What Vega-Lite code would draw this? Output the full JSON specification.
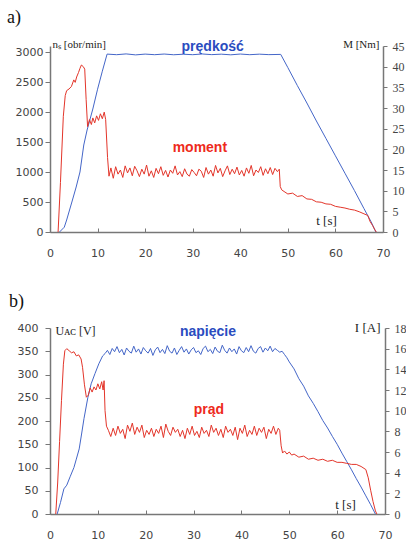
{
  "$schema": "https://vega.github.io/schema/vega-lite/v6.json",
  "padding": {"left": 7, "top": 9, "right": 0, "bottom": 0},
  "spacing": 35,
  "config": {
    "view": {"stroke": null},
    "axis": {"grid": false, "domainColor": "#777", "tickColor": "#777", "domainWidth": 1.5, "labelColor": "#444", "titleColor": "#222", "titleFontWeight": "normal"},
    "title": {"font": "Liberation Serif", "fontSize": 18, "fontWeight": "normal", "anchor": "start", "frame": "bounds", "baseline": "top", "color": "#111"}
  },
  "datasets": {
    "speed": [
      {"t": 2.0, "v": 0}, {"t": 3.0, "v": 80}, {"t": 3.5, "v": 200}, {"t": 4.6, "v": 500}, {"t": 5.5, "v": 750},
      {"t": 6.3, "v": 1000}, {"t": 7.1, "v": 1450}, {"t": 7.8, "v": 1700}, {"t": 9.0, "v": 2050}, {"t": 10.0, "v": 2380},
      {"t": 11.0, "v": 2680}, {"t": 12.0, "v": 2965}, {"t": 14, "v": 2955}, {"t": 16, "v": 2968}, {"t": 18, "v": 2952},
      {"t": 20, "v": 2965}, {"t": 22, "v": 2955}, {"t": 24, "v": 2966}, {"t": 26, "v": 2954}, {"t": 28, "v": 2963},
      {"t": 30, "v": 2955}, {"t": 32, "v": 2967}, {"t": 34, "v": 2956}, {"t": 36, "v": 2964}, {"t": 38, "v": 2953},
      {"t": 40, "v": 2966}, {"t": 42, "v": 2955}, {"t": 44, "v": 2964}, {"t": 46, "v": 2956}, {"t": 48.5, "v": 2960},
      {"t": 50, "v": 2740}, {"t": 52, "v": 2440}, {"t": 54, "v": 2150}, {"t": 56, "v": 1850}, {"t": 58, "v": 1560},
      {"t": 60, "v": 1270}, {"t": 62, "v": 980}, {"t": 64, "v": 690}, {"t": 66, "v": 390}, {"t": 67.5, "v": 170}, {"t": 68.5, "v": 0}
    ],
    "moment": [
      {"t": 1.7, "v": 0}, {"t": 2.2, "v": 12}, {"t": 2.8, "v": 28}, {"t": 3.2, "v": 33}, {"t": 3.5, "v": 34.2}, {"t": 4.0, "v": 34.6},
      {"t": 4.5, "v": 35.2}, {"t": 5.0, "v": 36.8}, {"t": 5.3, "v": 36.2}, {"t": 5.6, "v": 37.5}, {"t": 6.0, "v": 38.6}, {"t": 6.3, "v": 39.6},
      {"t": 6.6, "v": 40.4}, {"t": 7.0, "v": 40.0}, {"t": 7.3, "v": 39.4}, {"t": 7.6, "v": 32}, {"t": 7.9, "v": 25.5},
      {"t": 8.3, "v": 27.2}, {"t": 8.7, "v": 26.0}, {"t": 9.0, "v": 27.6}, {"t": 9.4, "v": 26.4}, {"t": 9.8, "v": 28.1},
      {"t": 10.2, "v": 27.0}, {"t": 10.6, "v": 28.6}, {"t": 11.0, "v": 27.4}, {"t": 11.4, "v": 29.0}, {"t": 11.7, "v": 27.2},
      {"t": 12.1, "v": 18}, {"t": 12.4, "v": 13.5}, {"t": 12.8, "v": 15.5}, {"t": 13.3, "v": 13.0}, {"t": 13.8, "v": 15.8},
      {"t": 14.3, "v": 14.0}, {"t": 14.8, "v": 15.0}, {"t": 15.3, "v": 13.2}, {"t": 15.8, "v": 16.0}, {"t": 16.3, "v": 14.3},
      {"t": 16.8, "v": 15.5}, {"t": 17.3, "v": 13.6}, {"t": 17.8, "v": 15.9}, {"t": 18.3, "v": 14.8}, {"t": 18.8, "v": 13.4},
      {"t": 19.3, "v": 15.2}, {"t": 19.8, "v": 14.0}, {"t": 20.3, "v": 16.2}, {"t": 20.8, "v": 13.5}, {"t": 21.3, "v": 14.8},
      {"t": 21.8, "v": 13.2}, {"t": 22.3, "v": 15.4}, {"t": 22.8, "v": 14.1}, {"t": 23.3, "v": 15.8}, {"t": 23.8, "v": 13.7},
      {"t": 24.3, "v": 14.9}, {"t": 24.8, "v": 13.3}, {"t": 25.3, "v": 15.0}, {"t": 25.8, "v": 14.2}, {"t": 26.3, "v": 16.0},
      {"t": 26.8, "v": 13.8}, {"t": 27.3, "v": 14.6}, {"t": 27.8, "v": 13.4}, {"t": 28.3, "v": 15.3}, {"t": 28.8, "v": 14.0},
      {"t": 29.3, "v": 13.5}, {"t": 29.8, "v": 15.1}, {"t": 30.3, "v": 14.4}, {"t": 30.8, "v": 13.6}, {"t": 31.3, "v": 15.2},
      {"t": 31.8, "v": 14.7}, {"t": 32.3, "v": 13.2}, {"t": 32.8, "v": 15.6}, {"t": 33.3, "v": 14.0}, {"t": 33.8, "v": 15.0},
      {"t": 34.3, "v": 13.5}, {"t": 34.8, "v": 16.1}, {"t": 35.3, "v": 14.3}, {"t": 35.8, "v": 15.4}, {"t": 36.3, "v": 13.4},
      {"t": 36.8, "v": 14.8}, {"t": 37.3, "v": 16.0}, {"t": 37.8, "v": 13.9}, {"t": 38.3, "v": 15.2}, {"t": 38.8, "v": 14.1},
      {"t": 39.3, "v": 15.7}, {"t": 39.8, "v": 13.8}, {"t": 40.3, "v": 14.9}, {"t": 40.8, "v": 13.5}, {"t": 41.3, "v": 15.5},
      {"t": 41.8, "v": 14.2}, {"t": 42.3, "v": 16.1}, {"t": 42.8, "v": 13.6}, {"t": 43.3, "v": 15.0}, {"t": 43.8, "v": 14.4},
      {"t": 44.3, "v": 15.8}, {"t": 44.8, "v": 13.7}, {"t": 45.3, "v": 15.3}, {"t": 45.8, "v": 14.1}, {"t": 46.3, "v": 15.6},
      {"t": 46.8, "v": 13.9}, {"t": 47.3, "v": 15.4}, {"t": 47.8, "v": 14.6}, {"t": 48.2, "v": 15.2}, {"t": 48.4, "v": 11.0},
      {"t": 48.7, "v": 10.2}, {"t": 49.2, "v": 9.8}, {"t": 50, "v": 9.2}, {"t": 51, "v": 9.4}, {"t": 52, "v": 8.6},
      {"t": 53, "v": 8.8}, {"t": 54, "v": 8.0}, {"t": 55, "v": 7.9}, {"t": 56, "v": 7.3}, {"t": 57, "v": 7.2},
      {"t": 58, "v": 6.8}, {"t": 59, "v": 6.7}, {"t": 60, "v": 6.2}, {"t": 61, "v": 6.0}, {"t": 62, "v": 5.8},
      {"t": 63, "v": 5.5}, {"t": 64, "v": 5.3}, {"t": 65, "v": 4.9}, {"t": 66, "v": 4.4}, {"t": 66.8, "v": 4.0},
      {"t": 67.3, "v": 2.5}, {"t": 67.8, "v": 1.6}, {"t": 68.3, "v": 0.5}, {"t": 68.6, "v": 0}
    ],
    "voltage": [
      {"t": 1.5, "v": 0}, {"t": 2.2, "v": 25}, {"t": 2.9, "v": 54}, {"t": 3.5, "v": 62}, {"t": 4.2, "v": 80}, {"t": 5.0, "v": 100},
      {"t": 5.5, "v": 118}, {"t": 6.1, "v": 140}, {"t": 6.6, "v": 172}, {"t": 7.1, "v": 205}, {"t": 7.9, "v": 250},
      {"t": 8.6, "v": 280}, {"t": 9.4, "v": 302}, {"t": 10.2, "v": 323}, {"t": 11.0, "v": 340},
      {"t": 11.5, "v": 345}, {"t": 12, "v": 352}, {"t": 12.5, "v": 343}, {"t": 13, "v": 356}, {"t": 13.5, "v": 349},
      {"t": 14, "v": 360}, {"t": 14.5, "v": 347}, {"t": 15, "v": 354}, {"t": 15.5, "v": 342}, {"t": 16, "v": 357},
      {"t": 16.5, "v": 350}, {"t": 17, "v": 346}, {"t": 17.5, "v": 361}, {"t": 18, "v": 348}, {"t": 18.5, "v": 355},
      {"t": 19, "v": 344}, {"t": 19.5, "v": 358}, {"t": 20, "v": 351}, {"t": 20.5, "v": 346}, {"t": 21, "v": 356},
      {"t": 21.5, "v": 341}, {"t": 22, "v": 353}, {"t": 22.5, "v": 359}, {"t": 23, "v": 347}, {"t": 23.5, "v": 354},
      {"t": 24, "v": 345}, {"t": 24.5, "v": 362}, {"t": 25, "v": 350}, {"t": 25.5, "v": 346}, {"t": 26, "v": 357},
      {"t": 26.5, "v": 343}, {"t": 27, "v": 352}, {"t": 27.5, "v": 360}, {"t": 28, "v": 348}, {"t": 28.5, "v": 355},
      {"t": 29, "v": 344}, {"t": 29.5, "v": 353}, {"t": 30, "v": 358}, {"t": 30.5, "v": 347}, {"t": 31, "v": 351},
      {"t": 31.5, "v": 343}, {"t": 32, "v": 356}, {"t": 32.5, "v": 361}, {"t": 33, "v": 349}, {"t": 33.5, "v": 354},
      {"t": 34, "v": 345}, {"t": 34.5, "v": 359}, {"t": 35, "v": 350}, {"t": 35.5, "v": 347}, {"t": 36, "v": 363},
      {"t": 36.5, "v": 352}, {"t": 37, "v": 346}, {"t": 37.5, "v": 357}, {"t": 38, "v": 349}, {"t": 38.5, "v": 355},
      {"t": 39, "v": 344}, {"t": 39.5, "v": 360}, {"t": 40, "v": 351}, {"t": 40.5, "v": 347}, {"t": 41, "v": 358},
      {"t": 41.5, "v": 349}, {"t": 42, "v": 362}, {"t": 42.5, "v": 350}, {"t": 43, "v": 346}, {"t": 43.5, "v": 356},
      {"t": 44, "v": 360}, {"t": 44.5, "v": 348}, {"t": 45, "v": 357}, {"t": 45.5, "v": 351}, {"t": 46, "v": 361},
      {"t": 46.5, "v": 349}, {"t": 47, "v": 356}, {"t": 47.5, "v": 352}, {"t": 48, "v": 348}, {"t": 48.5, "v": 350},
      {"t": 49, "v": 343}, {"t": 49.5, "v": 336}, {"t": 50, "v": 327}, {"t": 51, "v": 312}, {"t": 52, "v": 291},
      {"t": 53, "v": 275}, {"t": 54, "v": 254}, {"t": 55, "v": 238}, {"t": 56, "v": 220}, {"t": 57, "v": 201},
      {"t": 58, "v": 185}, {"t": 59, "v": 167}, {"t": 60, "v": 150}, {"t": 61, "v": 131}, {"t": 62, "v": 113},
      {"t": 63, "v": 95}, {"t": 64, "v": 76}, {"t": 65, "v": 58}, {"t": 66, "v": 39}, {"t": 67, "v": 20}, {"t": 68, "v": 0}
    ],
    "current": [
      {"t": 1.2, "v": 0}, {"t": 1.6, "v": 3}, {"t": 2.0, "v": 7}, {"t": 2.4, "v": 11}, {"t": 2.8, "v": 14.5}, {"t": 3.1, "v": 15.8},
      {"t": 3.5, "v": 16.0}, {"t": 4.0, "v": 15.8}, {"t": 4.5, "v": 15.6}, {"t": 5.0, "v": 15.7}, {"t": 5.5, "v": 15.3},
      {"t": 6.0, "v": 15.4}, {"t": 6.5, "v": 15.0}, {"t": 6.8, "v": 14.2}, {"t": 7.2, "v": 12.5}, {"t": 7.6, "v": 11.3},
      {"t": 8.0, "v": 11.5}, {"t": 8.4, "v": 12.2}, {"t": 8.8, "v": 11.8}, {"t": 9.2, "v": 12.3}, {"t": 9.6, "v": 12.0},
      {"t": 10.0, "v": 12.6}, {"t": 10.4, "v": 12.1}, {"t": 10.8, "v": 12.8}, {"t": 11.1, "v": 12.0}, {"t": 11.3, "v": 12.9},
      {"t": 11.5, "v": 10.0}, {"t": 11.8, "v": 8.5}, {"t": 12.2, "v": 8.1}, {"t": 12.7, "v": 7.5}, {"t": 13.2, "v": 8.3},
      {"t": 13.7, "v": 7.6}, {"t": 14.2, "v": 8.5}, {"t": 14.7, "v": 7.8}, {"t": 15.2, "v": 8.2}, {"t": 15.7, "v": 7.3},
      {"t": 16.2, "v": 8.6}, {"t": 16.7, "v": 8.0}, {"t": 17.2, "v": 8.8}, {"t": 17.7, "v": 7.7}, {"t": 18.2, "v": 8.4},
      {"t": 18.7, "v": 7.9}, {"t": 19.2, "v": 8.6}, {"t": 19.7, "v": 7.4}, {"t": 20.2, "v": 8.1}, {"t": 20.7, "v": 7.7},
      {"t": 21.2, "v": 8.3}, {"t": 21.7, "v": 7.5}, {"t": 22.2, "v": 8.2}, {"t": 22.7, "v": 7.8}, {"t": 23.2, "v": 8.5},
      {"t": 23.7, "v": 7.4}, {"t": 24.2, "v": 8.7}, {"t": 24.7, "v": 8.0}, {"t": 25.2, "v": 7.6}, {"t": 25.7, "v": 8.4},
      {"t": 26.2, "v": 7.9}, {"t": 26.7, "v": 8.2}, {"t": 27.2, "v": 7.5}, {"t": 27.7, "v": 8.1}, {"t": 28.2, "v": 7.3},
      {"t": 28.7, "v": 8.3}, {"t": 29.2, "v": 7.7}, {"t": 29.7, "v": 8.5}, {"t": 30.2, "v": 7.6}, {"t": 30.7, "v": 8.0},
      {"t": 31.2, "v": 7.4}, {"t": 31.7, "v": 8.4}, {"t": 32.2, "v": 7.8}, {"t": 32.7, "v": 8.1}, {"t": 33.2, "v": 7.5},
      {"t": 33.7, "v": 8.6}, {"t": 34.2, "v": 7.9}, {"t": 34.7, "v": 8.3}, {"t": 35.2, "v": 7.6}, {"t": 35.7, "v": 8.2},
      {"t": 36.2, "v": 7.4}, {"t": 36.7, "v": 8.5}, {"t": 37.2, "v": 7.9}, {"t": 37.7, "v": 8.2}, {"t": 38.2, "v": 7.6},
      {"t": 38.7, "v": 8.4}, {"t": 39.2, "v": 7.2}, {"t": 39.7, "v": 8.3}, {"t": 40.2, "v": 7.8}, {"t": 40.7, "v": 8.6},
      {"t": 41.2, "v": 7.5}, {"t": 41.7, "v": 8.1}, {"t": 42.2, "v": 7.7}, {"t": 42.7, "v": 8.5}, {"t": 43.2, "v": 7.6},
      {"t": 43.7, "v": 8.3}, {"t": 44.2, "v": 7.9}, {"t": 44.7, "v": 8.4}, {"t": 45.2, "v": 7.3}, {"t": 45.7, "v": 8.2},
      {"t": 46.2, "v": 7.8}, {"t": 46.7, "v": 8.5}, {"t": 47.2, "v": 7.7}, {"t": 47.7, "v": 8.3}, {"t": 48.0, "v": 8.1},
      {"t": 48.3, "v": 6.6}, {"t": 48.6, "v": 5.9}, {"t": 49.0, "v": 6.1}, {"t": 49.5, "v": 5.8}, {"t": 50.0, "v": 6.0},
      {"t": 50.5, "v": 5.7}, {"t": 51, "v": 5.8}, {"t": 52, "v": 5.5}, {"t": 53, "v": 5.6}, {"t": 54, "v": 5.3},
      {"t": 55, "v": 5.4}, {"t": 56, "v": 5.2}, {"t": 57, "v": 5.3}, {"t": 58, "v": 5.1}, {"t": 59, "v": 5.2},
      {"t": 60, "v": 5.0}, {"t": 61, "v": 5.0}, {"t": 62, "v": 4.9}, {"t": 63, "v": 4.8}, {"t": 64, "v": 4.8},
      {"t": 65, "v": 4.6}, {"t": 66, "v": 4.3}, {"t": 66.5, "v": 3.5}, {"t": 67, "v": 2.3}, {"t": 67.5, "v": 1.2},
      {"t": 68, "v": 0.3}, {"t": 68.3, "v": 0}
    ],
    "labelsSpeed": [{"t": 34.2, "v": 3017, "label": "prędkość"}],
    "labelsMoment": [{"t": 31.5, "v": 19.4, "label": "moment"}],
    "labelsVoltage": [{"t": 33.0, "v": 383, "label": "napięcie"}],
    "labelsCurrent": [{"t": 33.2, "v": 9.7, "label": "prąd"}]
  },
  "vconcat": [
    {
      "title": {"text": "a)", "dx": -8, "offset": 11},
      "width": 333,
      "height": 186,
      "layer": [
        {
          "layer": [
            {
              "data": {"name": "speed"},
              "mark": {"type": "line", "color": "#4466c8", "strokeWidth": 1},
              "encoding": {
                "x": {"field": "t", "type": "quantitative", "scale": {"domain": [0, 70], "nice": false},
                  "axis": {"values": [0, 10, 20, 30, 40, 50, 60, 70], "title": "t [s]", "titleFont": "Liberation Serif", "titleFontSize": 13, "titleAngle": 0, "titleAlign": "center", "titleBaseline": "alphabetic", "titleX": 276, "titleY": -8, "labelFont": "DejaVu Sans", "labelFontSize": 11, "labelFlush": false, "tickSize": -4, "labelPadding": 19}},
                "y": {"field": "v", "type": "quantitative", "scale": {"domain": [0, 3100], "nice": false},
                  "axis": {"orient": "left", "format": "d", "values": [0, 500, 1000, 1500, 2000, 2500, 3000], "title": "nₛ [obr/min]", "titleFont": "Liberation Serif", "titleFontSize": 11, "titleAngle": 0, "titleAlign": "left", "titleBaseline": "alphabetic", "titleX": 2, "titleY": 1, "labelFont": "DejaVu Sans", "labelFontSize": 11, "tickSize": 5, "labelPadding": 2, "minExtent": 35, "maxExtent": 35}}
              }
            },
            {
              "data": {"name": "labelsSpeed"},
              "mark": {"type": "text", "font": "Liberation Sans", "fontWeight": "bold", "fontSize": 14, "color": "#2a4cc0", "align": "center", "baseline": "alphabetic"},
              "encoding": {
                "x": {"field": "t", "type": "quantitative", "scale": {"domain": [0, 70], "nice": false},
                  "axis": {"values": [0, 10, 20, 30, 40, 50, 60, 70], "title": "t [s]", "titleFont": "Liberation Serif", "titleFontSize": 13, "titleAngle": 0, "titleAlign": "center", "titleBaseline": "alphabetic", "titleX": 276, "titleY": -8, "labelFont": "DejaVu Sans", "labelFontSize": 11, "labelFlush": false, "tickSize": -4, "labelPadding": 19}},
                "y": {"field": "v", "type": "quantitative", "scale": {"domain": [0, 3100], "nice": false},
                  "axis": {"orient": "left", "format": "d", "values": [0, 500, 1000, 1500, 2000, 2500, 3000], "title": "nₛ [obr/min]", "titleFont": "Liberation Serif", "titleFontSize": 11, "titleAngle": 0, "titleAlign": "left", "titleBaseline": "alphabetic", "titleX": 2, "titleY": 1, "labelFont": "DejaVu Sans", "labelFontSize": 11, "tickSize": 5, "labelPadding": 2, "minExtent": 35, "maxExtent": 35}},
                "text": {"field": "label"}
              }
            }
          ]
        },
        {
          "layer": [
            {
              "data": {"name": "moment"},
              "mark": {"type": "line", "color": "#e3352a", "strokeWidth": 1},
              "encoding": {
                "x": {"field": "t", "type": "quantitative", "scale": {"domain": [0, 70], "nice": false},
                  "axis": {"values": [0, 10, 20, 30, 40, 50, 60, 70], "title": "t [s]", "titleFont": "Liberation Serif", "titleFontSize": 13, "titleAngle": 0, "titleAlign": "center", "titleBaseline": "alphabetic", "titleX": 276, "titleY": -8, "labelFont": "DejaVu Sans", "labelFontSize": 11, "labelFlush": false, "tickSize": -4, "labelPadding": 19}},
                "y": {"field": "v", "type": "quantitative", "scale": {"domain": [0, 45], "nice": false},
                  "axis": {"orient": "right", "values": [0, 5, 10, 15, 20, 25, 30, 35, 40, 45], "title": "M [Nm]", "titleFont": "Liberation Serif", "titleFontSize": 11, "titleAngle": 0, "titleAlign": "right", "titleBaseline": "alphabetic", "titleX": -4, "titleY": 1, "labelFont": "Liberation Serif", "labelFontSize": 12, "tickSize": 4, "labelPadding": 5}}
              }
            },
            {
              "data": {"name": "labelsMoment"},
              "mark": {"type": "text", "font": "Liberation Sans", "fontWeight": "bold", "fontSize": 14, "color": "#ee2a1c", "align": "center", "baseline": "alphabetic"},
              "encoding": {
                "x": {"field": "t", "type": "quantitative", "scale": {"domain": [0, 70], "nice": false},
                  "axis": {"values": [0, 10, 20, 30, 40, 50, 60, 70], "title": "t [s]", "titleFont": "Liberation Serif", "titleFontSize": 13, "titleAngle": 0, "titleAlign": "center", "titleBaseline": "alphabetic", "titleX": 276, "titleY": -8, "labelFont": "DejaVu Sans", "labelFontSize": 11, "labelFlush": false, "tickSize": -4, "labelPadding": 19}},
                "y": {"field": "v", "type": "quantitative", "scale": {"domain": [0, 45], "nice": false},
                  "axis": {"orient": "right", "values": [0, 5, 10, 15, 20, 25, 30, 35, 40, 45], "title": "M [Nm]", "titleFont": "Liberation Serif", "titleFontSize": 11, "titleAngle": 0, "titleAlign": "right", "titleBaseline": "alphabetic", "titleX": -4, "titleY": 1, "labelFont": "Liberation Serif", "labelFontSize": 12, "tickSize": 4, "labelPadding": 5}},
                "text": {"field": "label"}
              }
            }
          ]
        }
      ],
      "resolve": {"scale": {"y": "independent"}}
    },
    {
      "title": {"text": "b)", "dx": -8, "offset": 10},
      "width": 335,
      "height": 186,
      "layer": [
        {
          "layer": [
            {
              "data": {"name": "voltage"},
              "mark": {"type": "line", "color": "#4466c8", "strokeWidth": 1},
              "encoding": {
                "x": {"field": "t", "type": "quantitative", "scale": {"domain": [0, 70], "nice": false},
                  "axis": {"values": [0, 10, 20, 30, 40, 50, 60, 70], "title": "t [s]", "titleFont": "Liberation Serif", "titleFontSize": 13, "titleAngle": 0, "titleAlign": "center", "titleBaseline": "alphabetic", "titleX": 295, "titleY": -6, "labelFont": "DejaVu Sans", "labelFontSize": 11, "labelFlush": false, "tickSize": -4, "labelPadding": 19}},
                "y": {"field": "v", "type": "quantitative", "scale": {"domain": [0, 400], "nice": false},
                  "axis": {"orient": "left", "values": [0, 50, 100, 150, 200, 250, 300, 350, 400], "title": "Uᴀᴄ [V]", "titleFont": "Liberation Serif", "titleFontSize": 12, "titleAngle": 0, "titleAlign": "left", "titleBaseline": "alphabetic", "titleX": 5, "titleY": 6, "labelFont": "DejaVu Sans", "labelFontSize": 11, "tickSize": 5, "labelPadding": 7, "minExtent": 33, "maxExtent": 33}}
              }
            },
            {
              "data": {"name": "labelsVoltage"},
              "mark": {"type": "text", "font": "Liberation Sans", "fontWeight": "bold", "fontSize": 14, "color": "#2a4cc0", "align": "center", "baseline": "alphabetic"},
              "encoding": {
                "x": {"field": "t", "type": "quantitative", "scale": {"domain": [0, 70], "nice": false},
                  "axis": {"values": [0, 10, 20, 30, 40, 50, 60, 70], "title": "t [s]", "titleFont": "Liberation Serif", "titleFontSize": 13, "titleAngle": 0, "titleAlign": "center", "titleBaseline": "alphabetic", "titleX": 295, "titleY": -6, "labelFont": "DejaVu Sans", "labelFontSize": 11, "labelFlush": false, "tickSize": -4, "labelPadding": 19}},
                "y": {"field": "v", "type": "quantitative", "scale": {"domain": [0, 400], "nice": false},
                  "axis": {"orient": "left", "values": [0, 50, 100, 150, 200, 250, 300, 350, 400], "title": "Uᴀᴄ [V]", "titleFont": "Liberation Serif", "titleFontSize": 12, "titleAngle": 0, "titleAlign": "left", "titleBaseline": "alphabetic", "titleX": 5, "titleY": 6, "labelFont": "DejaVu Sans", "labelFontSize": 11, "tickSize": 5, "labelPadding": 7, "minExtent": 33, "maxExtent": 33}},
                "text": {"field": "label"}
              }
            }
          ]
        },
        {
          "layer": [
            {
              "data": {"name": "current"},
              "mark": {"type": "line", "color": "#e3352a", "strokeWidth": 1},
              "encoding": {
                "x": {"field": "t", "type": "quantitative", "scale": {"domain": [0, 70], "nice": false},
                  "axis": {"values": [0, 10, 20, 30, 40, 50, 60, 70], "title": "t [s]", "titleFont": "Liberation Serif", "titleFontSize": 13, "titleAngle": 0, "titleAlign": "center", "titleBaseline": "alphabetic", "titleX": 295, "titleY": -6, "labelFont": "DejaVu Sans", "labelFontSize": 11, "labelFlush": false, "tickSize": -4, "labelPadding": 19}},
                "y": {"field": "v", "type": "quantitative", "scale": {"domain": [0, 18], "nice": false},
                  "axis": {"orient": "right", "values": [0, 2, 4, 6, 8, 10, 12, 14, 16, 18], "title": "I [A]", "titleFont": "Liberation Serif", "titleFontSize": 13, "titleAngle": 0, "titleAlign": "right", "titleBaseline": "alphabetic", "titleX": -5, "titleY": 3, "labelFont": "Liberation Serif", "labelFontSize": 12, "tickSize": 4, "labelPadding": 5}}
              }
            },
            {
              "data": {"name": "labelsCurrent"},
              "mark": {"type": "text", "font": "Liberation Sans", "fontWeight": "bold", "fontSize": 14, "color": "#ee2a1c", "align": "center", "baseline": "alphabetic"},
              "encoding": {
                "x": {"field": "t", "type": "quantitative", "scale": {"domain": [0, 70], "nice": false},
                  "axis": {"values": [0, 10, 20, 30, 40, 50, 60, 70], "title": "t [s]", "titleFont": "Liberation Serif", "titleFontSize": 13, "titleAngle": 0, "titleAlign": "center", "titleBaseline": "alphabetic", "titleX": 295, "titleY": -6, "labelFont": "DejaVu Sans", "labelFontSize": 11, "labelFlush": false, "tickSize": -4, "labelPadding": 19}},
                "y": {"field": "v", "type": "quantitative", "scale": {"domain": [0, 18], "nice": false},
                  "axis": {"orient": "right", "values": [0, 2, 4, 6, 8, 10, 12, 14, 16, 18], "title": "I [A]", "titleFont": "Liberation Serif", "titleFontSize": 13, "titleAngle": 0, "titleAlign": "right", "titleBaseline": "alphabetic", "titleX": -5, "titleY": 3, "labelFont": "Liberation Serif", "labelFontSize": 12, "tickSize": 4, "labelPadding": 5}},
                "text": {"field": "label"}
              }
            }
          ]
        }
      ],
      "resolve": {"scale": {"y": "independent"}}
    }
  ]
}
